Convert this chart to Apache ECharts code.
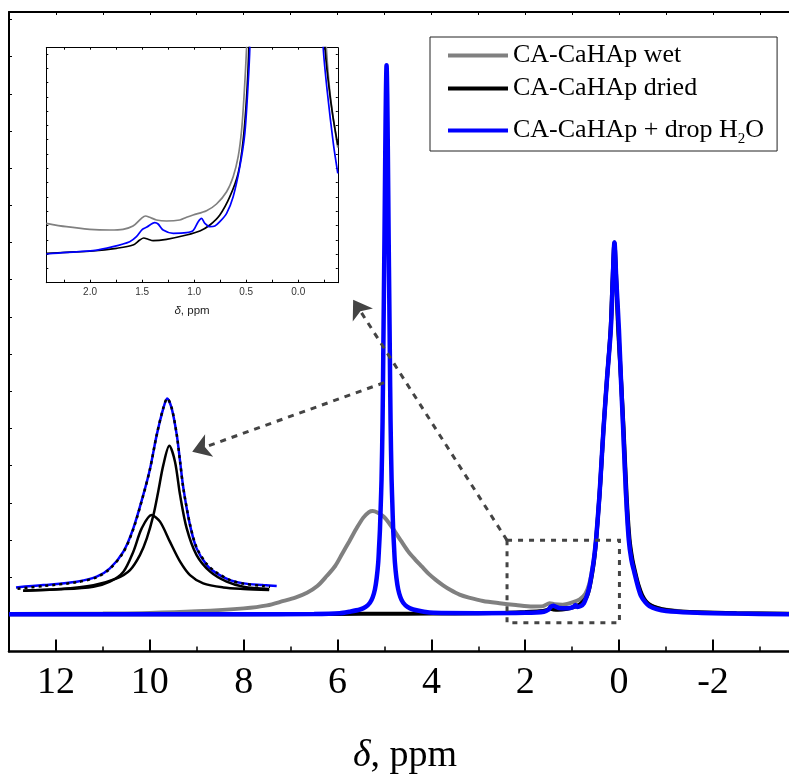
<!DOCTYPE html>
<html><head><meta charset="utf-8">
<script src="https://cdn.jsdelivr.net/npm/echarts@6/dist/echarts.min.js"></script>
<style>html,body{margin:0;padding:0;background:#fff}#c{width:789px;height:775px}</style>
</head><body><div id="c"></div>
<script>
// ---------- main spectrum (ppm, intensity) ----------
const seriesNames = ['CA-CaHAp wet', 'CA-CaHAp dried', 'CA-CaHAp + drop H2O'];
const wetMain = [[13,0.1],[11,0.2],[10,0.35],[9,0.8],[8,1.6],[7.5,2.4],[7.15,3.6],[6.9,4.5],[6.65,5.8],[6.43,7.6],[6.23,10.3],[6.05,13.0],[5.9,16.3],[5.75,19.6],[5.6,23.0],[5.45,26.0],[5.33,27.5],[5.25,27.8],[5.15,27.4],[5.02,26.3],[4.9,24.5],[4.78,22.3],[4.65,19.8],[4.5,17.0],[4.35,14.8],[4.2,12.8],[4.05,10.8],[3.9,9.2],[3.75,7.8],[3.6,6.6],[3.4,5.3],[3.2,4.5],[2.9,3.6],[2.55,3.0],[2.2,2.5],[1.84,2.1],[1.62,2.2],[1.48,3.0],[1.38,2.7],[1.2,2.6],[1.0,3.2],[0.84,4.0],[0.72,5.5],[0.64,8.0],[0.58,11.5],[0.53,15.5],[0.49,20.5],[0.42,32.0],[0.38,40.0],[0.33,50.0],[0.26,63.0],[0.18,76.0],[0.14,88.0],[0.10,97],[0.06,88.0],[0.02,76.0],[-0.04,63.0],[-0.09,49.0],[-0.15,31.0],[-0.21,20.5],[-0.27,15],[-0.33,11.5],[-0.40,8],[-0.47,5.4],[-0.56,3.6],[-0.65,2.6],[-0.8,1.7],[-1.0,1.2],[-1.5,0.6],[-2.5,0.3],[-3.62,0.2]];
const driedMain = [[13,0],[10,0],[8,0.05],[6,0.1],[5,0.15],[4,0.2],[3,0.3],[2.4,0.45],[2.0,0.6],[1.7,0.8],[1.55,1.1],[1.47,1.5],[1.40,1.3],[1.3,1.2],[1.1,1.5],[0.95,2.0],[0.84,2.7],[0.74,3.8],[0.68,5.0],[0.63,7.2],[0.58,10.5],[0.53,14.8],[0.49,19.8],[0.42,31.5],[0.38,39.5],[0.335,49.7],[0.26,63],[0.18,77],[0.14,90],[0.10,100],[0.06,90],[0.02,77.5],[-0.04,63.5],[-0.095,50],[-0.16,32],[-0.22,20.5],[-0.28,15],[-0.34,11.5],[-0.41,8],[-0.49,5.2],[-0.58,3.4],[-0.68,2.4],[-0.8,1.8],[-1.0,1.2],[-1.5,0.6],[-2.5,0.3],[-3.62,0.1]];
const dropMain = [[13,0],[10,0],[8,0],[6.5,0.1],[5.955,0.3],[5.75,0.7],[5.522,1.3],[5.40,2.0],[5.309,3.1],[5.25,4.6],[5.203,6.7],[5.165,9.8],[5.133,13.9],[5.115,18],[5.096,22.8],[5.08,29],[5.062,36.3],[5.04,52],[5.025,70],[5.012,86],[5.0,100.7],[4.982,125],[4.969,140],[4.955,147.7],[4.941,140],[4.928,125],[4.91,100.7],[4.898,86],[4.885,70],[4.87,52],[4.848,36.3],[4.83,29],[4.814,22.8],[4.795,18],[4.777,13.9],[4.745,9.8],[4.707,6.7],[4.66,4.6],[4.601,3.1],[4.51,2.0],[4.388,1.3],[4.16,0.7],[3.955,0.4],[3.0,0.3],[2.0,0.4],[1.6,0.7],[1.50,1.3],[1.46,2.0],[1.40,2.3],[1.34,2.0],[1.28,1.7],[1.10,1.6],[0.97,2.0],[0.93,2.5],[0.89,2.0],[0.82,2.2],[0.75,3.0],[0.70,4.5],[0.64,7.0],[0.58,11.2],[0.53,15.5],[0.49,20.2],[0.42,31.8],[0.38,40],[0.333,49.7],[0.26,63],[0.177,76.6],[0.135,90],[0.099,100],[0.06,90],[0.004,76.6],[-0.04,63],[-0.087,49.7],[-0.149,31.8],[-0.205,20.2],[-0.26,14.8],[-0.326,11.2],[-0.40,7.5],[-0.468,4.9],[-0.56,3.2],[-0.645,2.2],[-0.8,1.4],[-1.0,0.9],[-1.5,0.5],[-2.5,0.2],[-3.62,0]];
const mainMajorTicks = [12,10,8,6,4,2,0,-2];
const mainTickLabels = [12,10,8,6,4,2,0,-2];
const mainMinorTicks = [11,9,7,5,3,1,-1,-3];
const mainTopTicks = [12,11,10,9,8,7,6,5,4,3,2,1,0,-1,-2,-3];

// ---------- zoomed inset (ppm, arbitrary intensity) ----------
const insetWet = [[2.42,59.4],[2.227,56.0],[2.003,53.4],[1.81,52.7],[1.683,53.4],[1.587,56.7],[1.506,64.4],[1.467,66.7],[1.426,65.4],[1.362,62.7],[1.265,61.7],[1.138,62.7],[1.073,65.4],[1.01,67.7],[0.881,72.0],[0.785,78.7],[0.688,91.0],[0.625,106],[0.577,126],[0.544,152.7],[0.519,189.4],[0.496,235],[0.475,290],[0.45,360],[-0.22,360],[-0.245,290],[-0.27,235],[-0.31,185],[-0.38,135]];
const insetDried = [[2.42,29.4],[2.227,30.4],[1.971,31.7],[1.747,34.4],[1.587,37.7],[1.522,42.7],[1.484,44.7],[1.442,43.4],[1.394,42.0],[1.265,43.4],[1.073,47.7],[0.945,51.7],[0.849,57.7],[0.753,67.7],[0.657,86.0],[0.577,109.4],[0.529,142.7],[0.496,186.0],[0.474,235],[0.46,290],[0.44,360],[-0.22,360],[-0.24,290],[-0.257,235],[-0.29,200],[-0.33,168],[-0.38,137.7]];
const insetDrop = [[2.42,28.7],[2.227,30.4],[1.971,32.0],[1.779,36.0],[1.619,41.0],[1.554,46.0],[1.497,53.4],[1.458,55.4],[1.378,60.0],[1.346,58.7],[1.298,52.7],[1.201,49.4],[1.073,50.0],[1.01,52.0],[0.961,61.0],[0.929,64.4],[0.897,59.4],[0.849,56.0],[0.801,56.7],[0.753,61.0],[0.688,69.4],[0.625,86.0],[0.561,116.0],[0.513,149.4],[0.481,199.4],[0.465,235],[0.455,290],[0.44,360],[-0.21,360],[-0.225,290],[-0.24,235],[-0.28,190],[-0.337,139.4],[-0.38,109.4]];
const insetTicks = [2.25,2.0,1.75,1.5,1.25,1.0,0.75,0.5,0.25,0,-0.25];
const insetTickLabels = [2.0,1.5,1.0,0.5,0.0];

// ---------- peak deconvolution sketch (arbitrary units) ----------
const decoEnvelope = [[2.0,1.7],[11.1,2.9],[22.2,4.7],[28.9,7.3],[33.3,11.6],[37.8,20.3],[41.1,32.4],[44.4,49.7],[46.7,63.6],[48.9,80.9],[51.1,94.8],[52.4,100],[53.9,94.8],[55.6,80.9],[56.7,67.1],[57.8,53.2],[60.0,34.1],[62.2,22.0],[65.6,13.3],[68.9,9.0],[73.3,5.5],[77.8,3.8],[84.4,2.9],[88.9,2.4]];
const decoFitSum = [[2.5,1.0],[11.1,2.4],[22.2,4.4],[28.9,7.0],[33.3,11.4],[37.8,20.0],[41.1,32.0],[44.4,49.5],[46.7,63.5],[48.9,81.0],[51.1,95],[52.4,100],[53.9,95],[55.6,81],[56.7,67],[57.8,53],[60.0,34.5],[62.2,22.5],[65.6,13.8],[68.9,9.4],[73.3,5.6],[77.8,3.7],[84.4,2.4],[86.7,2.0]];
const decoNarrow = [[4.4,0],[16.7,0.9],[27.8,2.9],[35.6,6.4],[40.0,10.7],[43.3,18.5],[45.6,27.2],[47.8,39.3],[49.4,51.5],[51.1,65.3],[53.1,75.4],[55.0,67.1],[56.7,49.7],[58.9,32.4],[62.2,18.5],[66.7,9.9],[72.2,4.7],[77.8,2.1],[86.4,0.9]];
const decoBroad = [[4.4,0],[16.7,0.7],[27.8,2.1],[33.3,4.7],[37.8,9.9],[41.1,20.3],[43.9,32.4],[47.2,39.3],[50.0,35.9],[53.3,25.5],[56.7,15.1],[60.0,8.1],[64.4,3.8],[71.1,1.7],[77.8,0.9],[86.4,0.3]];

// ---------- annotations (main-plot data coordinates) ----------
const zoomBox = [[2.388, 19.9], [-0.007, -2.3]];
const arrowToInset = [[2.388, 19.9], [5.667, 84.6]];
const arrowToDeco = [[5.009, 62.3], [9.096, 43.75]];

const serif = 'Liberation Serif';
const sans = 'Liberation Sans';
const chart = echarts.init(document.getElementById('c'), null, {renderer: 'canvas'});

const hidden = {show: false};
const option = {
  animation: false,
  backgroundColor: '#fff',
  grid: [
    {left: 9, top: 12, right: 0, height: 639.5, outerBoundsMode: 'none', containLabel: false},
    {left: 46.3, top: 47.7, width: 291.5, height: 235, show: true, backgroundColor: '#fff', borderWidth: 0, outerBoundsMode: 'none', containLabel: false},
    {left: 10, top: 388.8, width: 270, height: 211.5, outerBoundsMode: 'none', containLabel: false}
  ],
  legend: {
    data: seriesNames, orient: 'vertical', left: 430, top: 37,
    itemWidth: 60, itemHeight: 4, itemGap: 0, icon: 'rect',
    padding: [2, 13, 4, 18], borderColor: '#222', borderWidth: 1, backgroundColor: '#fff',
    formatter: n => n.replace('H2O', 'H{sub|2}O'),
    textStyle: {fontFamily: serif, fontSize: 26, color: '#000', lineHeight: 33,
      rich: {sub: {fontFamily: serif, fontSize: 15, color: '#000', lineHeight: 6, padding: [27, 0, 0, 0], verticalAlign: 'bottom'}}}
  },
  xAxis: [
    {type: 'value', gridIndex: 0, position: 'bottom', inverse: true, min: -3.62, max: 13,
      axisLine: {show: true, onZero: false, lineStyle: {color: '#000', width: 2.5}},
      axisTick: {show: true, inside: true, length: 12, customValues: mainMajorTicks, lineStyle: {color: '#000', width: 2}},
      axisLabel: {customValues: mainTickLabels, margin: 13, fontFamily: serif, fontSize: 38, color: '#000'},
      splitLine: hidden,
      name: '{i|δ}, ppm', nameLocation: 'middle', nameGap: 86,
      nameTextStyle: {fontFamily: serif, fontSize: 38, color: '#000', padding: [0, 0, 0, 12],
        rich: {i: {fontFamily: serif, fontSize: 38, fontStyle: 'italic', color: '#000'}}}},
    {type: 'value', gridIndex: 0, position: 'bottom', inverse: true, min: -3.62, max: 13,
      axisLine: {show: false, onZero: false},
      axisTick: {show: true, inside: true, length: 5, customValues: mainMinorTicks, lineStyle: {color: '#000', width: 1.5}},
      axisLabel: hidden, splitLine: hidden},
    {type: 'value', gridIndex: 0, position: 'top', inverse: true, min: -3.62, max: 13,
      axisLine: {show: true, onZero: false, lineStyle: {color: '#000', width: 2}},
      axisTick: {show: true, inside: true, length: 3, customValues: mainTopTicks, lineStyle: {color: '#000', width: 1}},
      axisLabel: hidden, splitLine: hidden},
    {type: 'value', gridIndex: 1, position: 'bottom', inverse: true, min: -0.38, max: 2.42,
      axisLine: {show: true, onZero: false, lineStyle: {color: '#000', width: 1}},
      axisTick: {show: true, inside: true, length: 3, customValues: insetTicks, lineStyle: {color: '#000', width: 1}},
      axisLabel: {customValues: insetTickLabels, formatter: v => Number(v).toFixed(1), margin: 5, fontFamily: sans, fontSize: 10, color: '#333'},
      splitLine: hidden,
      name: '{i|δ}, ppm', nameLocation: 'middle', nameGap: 22,
      nameTextStyle: {fontFamily: sans, fontSize: 11.5, color: '#222', rich: {i: {fontFamily: sans, fontSize: 11.5, fontStyle: 'italic', color: '#222'}}}},
    {type: 'value', gridIndex: 1, position: 'top', inverse: true, min: -0.38, max: 2.42,
      axisLine: {show: true, onZero: false, lineStyle: {color: '#000', width: 1}},
      axisTick: {show: true, inside: true, length: 2, customValues: insetTicks, lineStyle: {color: '#000', width: 1}},
      axisLabel: hidden, splitLine: hidden},
    {type: 'value', gridIndex: 2, min: 0, max: 90, show: false}
  ],
  yAxis: [
    {type: 'value', gridIndex: 0, min: -10, max: 162, interval: 10,
      axisLine: {show: true, onZero: false, lineStyle: {color: '#000', width: 2}},
      axisTick: {show: true, inside: true, length: 3, lineStyle: {color: '#000', width: 1}},
      axisLabel: hidden, splitLine: hidden},
    {type: 'value', gridIndex: 1, position: 'left', min: 0, max: 235, interval: 14.3,
      axisLine: {show: true, onZero: false, lineStyle: {color: '#000', width: 1}},
      axisTick: {show: true, inside: true, length: 2, lineStyle: {color: '#000', width: 1}},
      axisLabel: hidden, splitLine: hidden},
    {type: 'value', gridIndex: 1, position: 'right', min: 0, max: 235, interval: 14.3,
      axisLine: {show: true, onZero: false, lineStyle: {color: '#000', width: 1}},
      axisTick: {show: true, inside: true, length: 2, lineStyle: {color: '#000', width: 1}},
      axisLabel: hidden, splitLine: hidden},
    {type: 'value', gridIndex: 2, min: -5, max: 105, show: false}
  ],
  series: [
    {name: seriesNames[0], type: 'line', xAxisIndex: 0, yAxisIndex: 0, data: wetMain, showSymbol: false, smooth: 0.3, z: 2,
      itemStyle: {color: '#808080'}, lineStyle: {color: '#808080', width: 4}},
    {name: seriesNames[1], type: 'line', xAxisIndex: 0, yAxisIndex: 0, data: driedMain, showSymbol: false, smooth: 0.3, z: 3,
      itemStyle: {color: '#000'}, lineStyle: {color: '#000', width: 4}},
    {name: seriesNames[2], type: 'line', xAxisIndex: 0, yAxisIndex: 0, data: dropMain, showSymbol: false, smooth: 0.3, z: 4,
      itemStyle: {color: '#0000ff'}, lineStyle: {color: '#0000ff', width: 4.5},
      markArea: {silent: true, z: 6, itemStyle: {color: 'rgba(0,0,0,0)', borderColor: '#444', borderWidth: 3, borderType: [5, 6]},
        label: hidden, data: [[{coord: zoomBox[0]}, {coord: zoomBox[1]}]]}},
    {name: 'arrows', type: 'lines', coordinateSystem: 'cartesian2d', xAxisIndex: 0, yAxisIndex: 0, z: 8, silent: true,
      symbol: ['none', 'arrow'], symbolSize: [12, 18],
      lineStyle: {color: '#444', width: 3, type: [6, 6], opacity: 1},
      data: [{coords: arrowToInset}, {coords: arrowToDeco}]},
    {name: 'inset wet', type: 'line', xAxisIndex: 3, yAxisIndex: 1, data: insetWet, showSymbol: false, smooth: 0.3, z: 5,
      lineStyle: {color: '#808080', width: 1.7}},
    {name: 'inset dried', type: 'line', xAxisIndex: 3, yAxisIndex: 1, data: insetDried, showSymbol: false, smooth: 0.3, z: 6,
      lineStyle: {color: '#000', width: 1.7}},
    {name: 'inset drop', type: 'line', xAxisIndex: 3, yAxisIndex: 1, data: insetDrop, showSymbol: false, smooth: 0.3, z: 7,
      lineStyle: {color: '#0000ff', width: 1.7}},
    {name: 'deco envelope', type: 'line', xAxisIndex: 5, yAxisIndex: 3, data: decoEnvelope, showSymbol: false, smooth: 0.3, z: 5,
      lineStyle: {color: '#0000ff', width: 2.5}},
    {name: 'deco narrow', type: 'line', xAxisIndex: 5, yAxisIndex: 3, data: decoNarrow, showSymbol: false, smooth: 0.3, z: 6,
      lineStyle: {color: '#000', width: 2.5}},
    {name: 'deco broad', type: 'line', xAxisIndex: 5, yAxisIndex: 3, data: decoBroad, showSymbol: false, smooth: 0.3, z: 6,
      lineStyle: {color: '#000', width: 2.5}},
    {name: 'deco fit', type: 'line', xAxisIndex: 5, yAxisIndex: 3, data: decoFitSum, showSymbol: false, smooth: 0.3, z: 7,
      lineStyle: {color: '#000', width: 2.5, type: [3, 4]}}
  ]
};
chart.setOption(option);
</script></body></html>
